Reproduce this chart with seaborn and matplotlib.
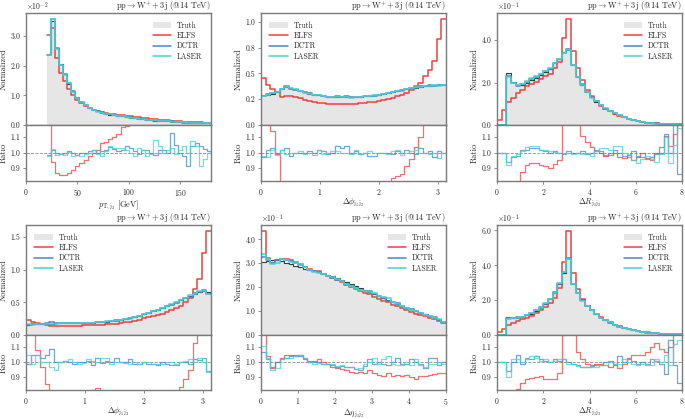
import numpy as np
import pandas as pd
import matplotlib
matplotlib.use("Agg")
from matplotlib import pyplot as plt
from matplotlib.lines import Line2D
from matplotlib.patches import Patch
from matplotlib.ticker import MultipleLocator, FormatStrFormatter
import seaborn as sns

nan = np.nan

process = r"$\mathrm{pp}\rightarrow\mathrm{W}^{+}+3\mathrm{j}$ (@14 TeV)"
legend_names = ["Truth", "ELFS", "DCTR", "LASER"]

# p_T of third jet, 40 bins 20-180 GeV (units of 1e-2)
pt_truth = [2.4, 3.5, 2.6, 2.05, 1.72, 1.4, 1.14, 0.93, 0.78, 0.67,
            0.58, 0.51, 0.46, 0.42, 0.38, 0.35, 0.33, 0.31, 0.29, 0.27,
            0.25, 0.23, 0.21, 0.195, 0.18, 0.165, 0.15, 0.14, 0.13, 0.12,
            0.11, 0.10, 0.093, 0.086, 0.08, 0.074, 0.068, 0.063, 0.058, 0.054]
pt_elfs_ratio = [1.27, 0.94, 0.87, 0.855, 0.855, 0.865, 0.885, 0.91, 0.935, 0.955,
                 0.98, 0.995, 1.02, 1.065, 1.07, 1.09, 1.105, 1.12, 1.165, 1.175,
                 1.2, 1.22, 1.24, 1.25, 1.27, 1.28, 1.3, 1.31, 1.32, 1.33,
                 1.34, 1.35, 1.36, 1.37, 1.38, 1.39, 1.4, 1.4, 1.41, 1.42]
pt_dctr_ratio = [0.985, 1.02, 1.0, 0.99, 0.995, 1.01, 0.995, 0.985, 0.995, 1.0,
                 1.01, 1.02, 1.0, 1.01, 1.02, 1.035, 1.025, 1.01, 1.02, 1.04,
                 1.03, 1.01, 0.99, 1.02, 1.02, 1.0, 0.985, 1.02, 1.02, 1.0,
                 1.13, 1.05, 1.0, 0.98, 0.915, 1.04, 1.065, 1.045, 1.025, 1.01]
pt_laser_ratio = [0.98, 1.025, 0.985, 0.99, 0.985, 1.005, 0.98, 0.985, 0.975, 0.99,
                  1.0, 1.02, 0.99, 0.98, 1.01, 1.04, 1.03, 1.03, 1.03, 1.02,
                  1.0, 0.98, 1.03, 1.02, 0.98, 0.99, 1.08, 1.04, 1.0, 1.02,
                  1.03, 0.99, 1.02, 1.04, 1.0, 1.075, 1.045, 0.91, 0.96, 1.0]

# delta phi j1 j2, 40 bins 0-pi
phi12_truth = [0.29, 0.295, 0.305, 0.32, 0.345, 0.37, 0.36, 0.345, 0.33, 0.315,
               0.305, 0.295, 0.287, 0.28, 0.275, 0.271, 0.268, 0.267, 0.267, 0.268,
               0.27, 0.273, 0.277, 0.282, 0.288, 0.295, 0.302, 0.31, 0.318, 0.327,
               0.336, 0.345, 0.354, 0.362, 0.37, 0.376, 0.381, 0.385, 0.387, 0.388]
phi12_elfs_ratio = [1.58, 1.32, 1.14, 0.99, 0.8, 0.76, 0.77, 0.78, 0.78, 0.77,
                    0.76, 0.755, 0.75, 0.745, 0.745, 0.745, 0.745, 0.75, 0.755, 0.76,
                    0.765, 0.77, 0.775, 0.78, 0.79, 0.795, 0.8, 0.805, 0.835, 0.845,
                    0.86, 0.91, 0.96, 1.035, 1.1, 1.25, 1.4, 1.6, 2.15, 2.65]
phi12_dctr_ratio = [0.97, 1.02, 1.03, 1.0, 1.02, 1.03, 0.98, 0.995, 1.0, 1.0,
                    1.01, 1.0, 1.02, 1.01, 0.99, 1.0, 1.04, 1.03, 1.04, 1.0,
                    1.01, 0.99, 1.0, 0.98, 0.98, 1.0, 0.995, 1.0, 0.99, 1.01,
                    1.0, 1.02, 1.0, 0.99, 1.03, 1.0, 1.01, 0.97, 1.01, 1.0]
phi12_laser_ratio = [0.98, 0.97, 1.02, 0.985, 1.02, 0.99, 1.0, 1.0, 1.01, 0.99,
                     1.0, 0.985, 1.02, 0.99, 1.0, 1.01, 1.01, 1.0, 1.0, 0.99,
                     1.02, 0.99, 1.0, 1.01, 1.0, 1.0, 1.0, 0.99, 1.01, 1.02,
                     0.985, 1.0, 1.01, 1.02, 1.0, 1.0, 0.99, 1.0, 0.965, 1.0]

# delta R j1 j2, 40 bins 0-8 (units of 1e-1)
dr12_truth = [0, 0, 2.45, 2.04, 1.9, 1.9, 2.0, 2.1, 2.2, 2.35,
              2.5, 2.65, 2.9, 3.12, 3.43, 3.55, 2.85, 2.25, 1.9, 1.55,
              1.3, 1.1, 0.92, 0.78, 0.65, 0.54, 0.45, 0.37, 0.3, 0.24,
              0.19, 0.15, 0.12, 0.095, 0.075, 0.06, 0.045, 0.035, 0.027, 0.02]
dr12_elfs_below_cut = [0.25, 0.7]
dr12_elfs_ratio = [nan, nan, 0.45, 0.63, 0.79, 0.875, 0.92, 0.93, 0.93, 0.92,
                   0.915, 0.9, 0.925, 0.95, 1.2, 1.41, 1.22, 1.19, 1.11, 1.067,
                   1.035, 1.01, 0.995, 0.977, 0.985, 1.0, 0.97, 0.965, 0.985, 0.955,
                   0.97, 1.0, 0.965, 0.955, 1.0, 1.035, 1.11, 1.04, 1.12, 1.2]
dr12_dctr_ratio = [1.0, 1.0, 0.94, 0.97, 0.98, 1.02, 1.02, 1.03, 1.03, 1.02,
                   1.01, 1.0, 1.01, 1.0, 0.99, 1.01, 0.995, 1.0, 1.01, 0.99,
                   1.0, 1.02, 1.01, 0.985, 1.0, 1.02, 1.0, 0.98, 0.97, 1.01,
                   0.98, 0.97, 0.96, 0.97, 0.99, 1.0, 1.12, 1.0, 1.2, 0.86]
dr12_laser_ratio = [1.0, 1.0, 0.92, 0.975, 0.99, 1.01, 1.035, 1.045, 1.04, 1.02,
                    1.02, 1.01, 1.005, 1.0, 0.995, 1.0, 0.99, 1.0, 0.99, 1.0,
                    0.98, 1.01, 1.03, 1.03, 1.02, 1.04, 1.04, 1.0, 0.99, 0.95,
                    0.93, 0.96, 0.975, 0.96, 0.94, 0.99, 1.1, 0.93, 1.05, 1.16]

# delta phi j1 j3, 40 bins 0-pi
phi13_truth = [0.16, 0.162, 0.165, 0.168, 0.172, 0.176, 0.178, 0.178, 0.178, 0.178,
               0.178, 0.179, 0.18, 0.183, 0.187, 0.192, 0.197, 0.203, 0.21, 0.218,
               0.228, 0.24, 0.255, 0.272, 0.295, 0.318, 0.34, 0.365, 0.39, 0.415,
               0.445, 0.475, 0.505, 0.535, 0.565, 0.595, 0.625, 0.655, 0.675, 0.665]
phi13_elfs_ratio = [1.4, 1.22, 1.08, 0.97, 0.855, 0.8, 0.79, 0.79, 0.8, 0.8,
                    0.8, 0.81, 0.81, 0.81, 0.815, 0.825, 0.81, 0.8, 0.8, 0.79,
                    0.79, 0.8, 0.8, 0.79, 0.79, 0.8, 0.8, 0.8, 0.79, 0.79,
                    0.8, 0.8, 0.81, 0.835, 0.89, 0.95, 1.13, 1.3, 1.85, 2.4]
phi13_dctr_ratio = [0.99, 1.05, 1.05, 1.03, 1.05, 1.09, 1.0, 1.0, 1.01, 1.0,
                    0.99, 1.0, 1.0, 1.01, 0.98, 1.03, 0.995, 1.01, 1.0, 1.03,
                    1.0, 1.0, 1.02, 0.99, 0.985, 1.0, 0.99, 0.99, 0.98, 1.0,
                    0.985, 0.98, 0.98, 1.0, 1.0, 0.99, 1.02, 1.015, 1.03, 0.94]
phi13_laser_ratio = [1.045, 0.985, 1.05, 1.0, 1.0, 0.97, 0.95, 1.0, 1.01, 1.02,
                     1.0, 0.99, 0.995, 1.02, 1.01, 1.0, 1.03, 1.03, 0.99, 1.0,
                     1.0, 0.995, 0.99, 1.0, 0.985, 1.0, 1.0, 0.99, 0.99, 0.99,
                     1.0, 1.0, 0.99, 1.0, 1.01, 1.02, 1.0, 1.03, 1.0, 0.935]

# delta eta j1 j3, 40 bins 0-5 (units of 1e-1)
deta13_truth = [3.05, 3.08, 3.12, 3.15, 3.1, 3.03, 2.97, 2.9, 2.83, 2.78,
                2.72, 2.67, 2.62, 2.56, 2.51, 2.45, 2.39, 2.31, 2.22, 2.14,
                2.05, 1.97, 1.88, 1.8, 1.72, 1.63, 1.55, 1.47, 1.39, 1.31,
                1.23, 1.15, 1.07, 1.0, 0.93, 0.86, 0.79, 0.72, 0.65, 0.55]
deta13_elfs_ratio = [1.43, 1.04, 0.96, 1.0, 1.03, 1.045, 1.05, 1.04, 1.045, 1.025,
                     1.01, 1.01, 1.02, 1.0, 0.99, 0.97, 0.96, 0.955, 0.95, 0.935,
                     0.93, 0.935, 0.925, 0.945, 0.925, 0.915, 0.91, 0.93, 0.905, 0.915,
                     0.905, 0.915, 0.9, 0.89, 0.905, 0.91, 0.915, 0.92, 0.93, 0.925]
deta13_dctr_ratio = [1.07, 1.02, 0.97, 1.0, 1.02, 1.03, 1.04, 1.05, 1.04, 1.02,
                     1.0, 1.0, 1.0, 0.99, 0.985, 0.98, 0.97, 0.975, 0.97, 0.965,
                     0.955, 0.95, 0.975, 1.02, 0.99, 1.0, 0.99, 0.98, 1.0, 1.03,
                     0.99, 0.985, 1.02, 1.0, 0.99, 0.96, 1.03, 1.03, 0.98, 1.0]
deta13_laser_ratio = [1.11, 1.03, 0.95, 0.96, 1.02, 1.03, 1.03, 1.04, 1.05, 1.03,
                      1.0, 0.99, 0.995, 0.99, 0.99, 0.985, 0.975, 0.98, 0.97, 0.965,
                      0.955, 0.96, 0.99, 1.0, 1.03, 0.99, 1.02, 1.04, 0.99, 0.98,
                      0.98, 1.0, 0.98, 1.02, 0.98, 0.97, 0.985, 0.985, 1.0, 0.99]

# delta R j1 j3, 40 bins 0-8 (units of 1e-1)
dr13_truth = [0, 0, 1.02, 0.96, 0.98, 1.04, 1.12, 1.22, 1.38, 1.55,
              1.78, 2.05, 2.4, 2.9, 3.55, 4.4, 2.95, 2.45, 2.05, 1.7,
              1.45, 1.22, 1.02, 0.86, 0.72, 0.6, 0.49, 0.4, 0.33, 0.27,
              0.22, 0.18, 0.14, 0.11, 0.09, 0.07, 0.055, 0.045, 0.035, 0.028]
dr13_elfs_below_cut = [0.15, 0.35]
dr13_elfs_ratio = [nan, nan, 0.59, 0.73, 0.82, 0.86, 0.89, 0.895, 0.9, 0.91,
                   0.89, 0.885, 0.89, 0.925, 1.18, 1.36, 1.2, 1.07, 1.02, 0.99,
                   0.98, 0.99, 0.985, 0.98, 0.965, 0.98, 0.96, 0.99, 1.03, 1.05,
                   1.045, 1.045, 1.07, 1.1, 1.13, 1.09, 1.07, 1.1, 1.25, 1.3]
dr13_dctr_ratio = [1.0, 1.0, 0.94, 1.0, 1.05, 0.99, 1.03, 1.02, 1.04, 1.02,
                   1.01, 1.0, 1.02, 1.01, 1.02, 1.0, 0.99, 0.98, 0.97, 0.97,
                   0.975, 0.98, 0.98, 1.0, 1.01, 0.99, 1.04, 1.0, 1.02, 1.01,
                   0.99, 1.0, 0.985, 1.02, 1.01, 0.99, 0.92, 1.15, 0.98, 0.86]
dr13_laser_ratio = [1.0, 1.0, 0.9, 1.02, 1.02, 1.0, 1.02, 1.04, 1.03, 1.01,
                    1.02, 1.0, 1.01, 1.02, 1.02, 0.99, 0.985, 0.975, 0.965, 0.965,
                    0.97, 0.97, 0.98, 0.98, 1.0, 0.985, 0.99, 1.02, 1.0, 0.99,
                    0.98, 0.99, 0.98, 0.98, 1.02, 1.0, 1.05, 0.98, 1.12, 1.15]

truth_fill = "#e6e6e6"
truth_edge = "#3a3a3a"
model_colors = ["#e8423f", "#4a86c5", "#4ccfcf"]
spine_color = "#7a7a7a"

W, H = 685, 419
col_left = [26, 261, 497]
ax_width = 185
row_edges = [(13, 125, 181), (225, 335, 390)]


def step_hist(ax, edges, values, **kws):
    # one weighted entry per bin centre -> bin height = value
    df = pd.DataFrame({"x": (edges[:-1] + edges[1:]) / 2, "w": values})
    sns.histplot(data=df, x="x", weights="w", bins=list(edges), element="step",
                 stat="count", ax=ax, legend=False, **kws)


def style_axes(ax):
    for s in ax.spines.values():
        s.set_color(spine_color)
        s.set_linewidth(1.0)
    ax.tick_params(direction="out", length=2.5, width=0.6, color=spine_color,
                   labelsize=5.5, pad=1.5)


def draw_panel(fig, row, col, p):
    x0 = col_left[col]
    top, mid, bottom = row_edges[row]
    ax = fig.add_axes([x0 / W, 1 - mid / H, ax_width / W, (mid - top) / H])
    rax = fig.add_axes([x0 / W, 1 - bottom / H, ax_width / W, (bottom - mid) / H])

    edges = p["edges"]
    truth = np.array(p["truth"], float)
    ratios = [np.array(r, float) for r in p["ratios"]]
    models = [truth * r for r in ratios]
    if p.get("below") is not None:
        n = len(p["below"])
        models[0][:n] = p["below"]

    step_hist(ax, edges, truth, fill=True, color=truth_fill, alpha=1, linewidth=0)
    step_hist(ax, edges, truth, fill=False, color=truth_edge, linewidth=0.8)
    for vals, c in zip(models, model_colors):
        step_hist(ax, edges, vals, fill=False, color=c, linewidth=1.1)

    rax.axhline(1.0, color="#8a8a8a", ls="--", lw=0.6)
    for r, c in zip(ratios, model_colors):
        step_hist(rax, edges, r, fill=False, color=c, linewidth=0.9, alpha=0.75)

    ymax = max(np.nanmax(truth), max(np.nanmax(m) for m in models))
    ax.set_ylim(0, ymax * 1.055)
    ax.set_xlim(p["xlim"])
    ax.yaxis.set_major_locator(MultipleLocator(p["ystep"]))
    ax.yaxis.set_major_formatter(FormatStrFormatter("%.1f"))
    ax.set_xlabel("")
    ax.set_ylabel("Normalized", fontsize=6)
    ax.yaxis.set_label_coords(-0.1, 0.5)
    style_axes(ax)
    ax.tick_params(axis="x", bottom=False, labelbottom=False)
    ax.set_title(process, loc="right", fontsize=6, pad=1.5)
    if p["scale"]:
        ax.text(0.0, 1.004, p["scale"], transform=ax.transAxes, fontsize=5.5,
                ha="left", va="bottom")

    handles = [Patch(facecolor=truth_fill, edgecolor="none")]
    handles += [Line2D([], [], color=c, lw=1.1) for c in model_colors]
    ax.legend(handles, legend_names, loc=p["loc"], frameon=False, fontsize=5.5,
              handlelength=2.4, labelspacing=0.25, borderaxespad=0.7,
              handletextpad=0.8)

    rax.set_xlim(p["xlim"])
    rax.set_ylim(0.815, 1.18)
    rax.set_yticks([0.9, 1.0, 1.1])
    rax.yaxis.set_major_formatter(FormatStrFormatter("%.1f"))
    rax.xaxis.set_major_locator(MultipleLocator(p["xstep"]))
    rax.set_ylabel("Ratio", fontsize=6)
    rax.yaxis.set_label_coords(-0.1, 0.5)
    rax.set_xlabel(p["xlabel"], fontsize=6, labelpad=0.5)
    style_axes(rax)


def main():
    sns.set_style("ticks")
    plt.rcParams["font.family"] = ["cmr10", "DejaVu Serif"]
    plt.rcParams["mathtext.fontset"] = "cm"
    plt.rcParams["axes.formatter.use_mathtext"] = True
    plt.rcParams["axes.unicode_minus"] = False

    panels = [
        dict(edges=np.linspace(20, 180, 41), truth=pt_truth,
             ratios=[pt_elfs_ratio, pt_dctr_ratio, pt_laser_ratio],
             xlim=(0, 180), xstep=50, ystep=1.0, scale=r"$\times10^{-2}$",
             loc="upper right", xlabel=r"$p_{\mathrm{T},\mathrm{j}_3}$ [GeV]"),
        dict(edges=np.linspace(0, np.pi, 41), truth=phi12_truth,
             ratios=[phi12_elfs_ratio, phi12_dctr_ratio, phi12_laser_ratio],
             xlim=(0, np.pi), xstep=1, ystep=0.25, scale=None,
             loc="upper left", xlabel=r"$\Delta\phi_{\mathrm{j}_1\mathrm{j}_2}$"),
        dict(edges=np.linspace(0, 8, 41), truth=dr12_truth, below=dr12_elfs_below_cut,
             ratios=[dr12_elfs_ratio, dr12_dctr_ratio, dr12_laser_ratio],
             xlim=(0, 8), xstep=2, ystep=2.0, scale=r"$\times10^{-1}$",
             loc="upper right", xlabel=r"$\Delta R_{\mathrm{j}_1\mathrm{j}_2}$"),
        dict(edges=np.linspace(0, np.pi, 41), truth=phi13_truth,
             ratios=[phi13_elfs_ratio, phi13_dctr_ratio, phi13_laser_ratio],
             xlim=(0, np.pi), xstep=1, ystep=0.5, scale=None,
             loc="upper left", xlabel=r"$\Delta\phi_{\mathrm{j}_1\mathrm{j}_3}$"),
        dict(edges=np.linspace(0, 5, 41), truth=deta13_truth,
             ratios=[deta13_elfs_ratio, deta13_dctr_ratio, deta13_laser_ratio],
             xlim=(0, 5), xstep=1, ystep=1.0, scale=r"$\times10^{-1}$",
             loc="upper right", xlabel=r"$\Delta\eta_{\mathrm{j}_1\mathrm{j}_3}$"),
        dict(edges=np.linspace(0, 8, 41), truth=dr13_truth, below=dr13_elfs_below_cut,
             ratios=[dr13_elfs_ratio, dr13_dctr_ratio, dr13_laser_ratio],
             xlim=(0, 8), xstep=2, ystep=2.0, scale=r"$\times10^{-1}$",
             loc="upper right", xlabel=r"$\Delta R_{\mathrm{j}_1\mathrm{j}_3}$"),
    ]

    fig = plt.figure(figsize=(6.85, 4.19), dpi=100)
    for i, p in enumerate(panels):
        draw_panel(fig, i // 3, i % 3, p)
    fig.savefig("out.png", dpi=100)


if __name__ == "__main__":
    main()
